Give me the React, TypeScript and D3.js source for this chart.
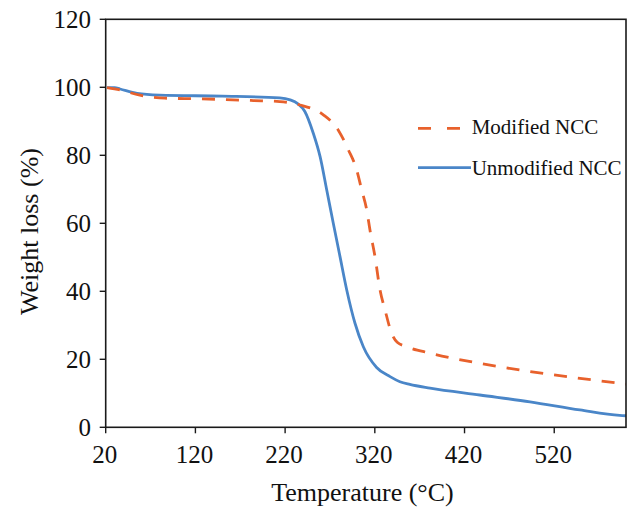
import React from "react";
import * as d3 from "d3";

const modifiedTemp = [21.5, 36, 58, 86, 125, 184.5, 214, 236.6, 262.6, 279.3, 290.5, 299.8, 305.4, 311, 314.6, 320.2, 325.8, 331.4, 338.8, 345, 355.6, 381.5, 437, 493, 548.7, 600];
const modifiedWeight = [99.9, 99.2, 97.7, 96.8, 96.6, 96.1, 95.8, 94.8, 91.9, 87.4, 81.6, 75.7, 69.8, 63.9, 58, 50.2, 40.4, 34.5, 27.6, 25, 23.7, 21.8, 18.8, 16.4, 14.4, 12.7];

const unmodifiedTemp = [21.5, 30, 36, 55, 80, 150, 214, 225.6, 234, 242, 251.4, 259, 266.4, 273.7, 281.2, 288.7, 297.9, 307.2, 322, 337, 348, 359, 381.5, 437, 493, 548.7, 593, 600];
const unmodifiedWeight = [99.9, 99.9, 99.5, 98.2, 97.7, 97.4, 96.9, 96.3, 95.2, 92.9, 86.5, 79.6, 69.8, 60, 50.2, 40.4, 30.6, 23.7, 17.6, 14.9, 13.4, 12.6, 11.5, 9.5, 7.5, 5.1, 3.5, 3.4];

const xTicks = [20, 120, 220, 320, 420, 520];
const yTicks = [0, 20, 40, 60, 80, 100, 120];

const seriesNames = ["Modified NCC", "Unmodified NCC"];
const seriesColors = ["#E8612C", "#4A86C8"];

const W = 633, H = 508;
const L = 105.7, R = 626, T = 19.3, B = 427.3;
const FONT = "'Liberation Serif', 'Times New Roman', serif";

export default function App() {
  const x = d3.scaleLinear().domain([20, 600]).range([L, R]);
  const y = d3.scaleLinear().domain([0, 120]).range([B, T]);
  const line = d3.line<[number, number]>().x(d => x(d[0])).y(d => y(d[1])).curve(d3.curveMonotoneX);
  const modData = modifiedTemp.map((t, i) => [t, modifiedWeight[i]] as [number, number]);
  const unmodData = unmodifiedTemp.map((t, i) => [t, unmodifiedWeight[i]] as [number, number]);

  return (
    <svg width={W} height={H} style={{ position: "absolute", left: 0, top: 0, background: "#fff" }} fontFamily={FONT}>
      <rect x={0} y={0} width={W} height={H} fill="#fff" />
      <defs>
        <clipPath id="plot"><rect x={L} y={T} width={R - L} height={B - T} /></clipPath>
      </defs>
      <g clipPath="url(#plot)">
        <path d={line(unmodData) || ""} fill="none" stroke={seriesColors[1]} strokeWidth={2.8} />
        <path d={line(modData) || ""} fill="none" stroke={seriesColors[0]} strokeWidth={2.8} strokeDasharray="13 11" />
      </g>
      <rect x={L} y={T} width={R - L} height={B - T} fill="none" stroke="#1a1a1a" strokeWidth={1.6} />
      {yTicks.map(v => (
        <g key={"y" + v}>
          <line x1={L - 6} x2={L} y1={y(v)} y2={y(v)} stroke="#1a1a1a" strokeWidth={1.4} />
          <text x={91} y={y(v)} dy="0.35em" textAnchor="end" fontSize={25} fill="#111">{v}</text>
        </g>
      ))}
      {xTicks.map(v => (
        <g key={"x" + v}>
          <line x1={x(v)} x2={x(v)} y1={B} y2={B + 6} stroke="#1a1a1a" strokeWidth={1.4} />
          <text x={x(v) - 1} y={463} textAnchor="middle" fontSize={25} fill="#111">{v}</text>
        </g>
      ))}
      <text x={362.5} y={501} textAnchor="middle" fontSize={26} fill="#111">Temperature (°C)</text>
      <text transform={`translate(38, 231.5) rotate(-90)`} textAnchor="middle" fontSize={26} fill="#111">Weight loss (%)</text>
      <line x1={418} x2={460} y1={128.3} y2={128.3} stroke={seriesColors[0]} strokeWidth={2.8} strokeDasharray="13 16" />
      <text x={471.7} y={133.5} fontSize={21} fill="#111">{seriesNames[0]}</text>
      <line x1={418} x2={471} y1={167.7} y2={167.7} stroke={seriesColors[1]} strokeWidth={2.8} />
      <text x={471.7} y={175} fontSize={21} fill="#111">{seriesNames[1]}</text>
    </svg>
  );
}
